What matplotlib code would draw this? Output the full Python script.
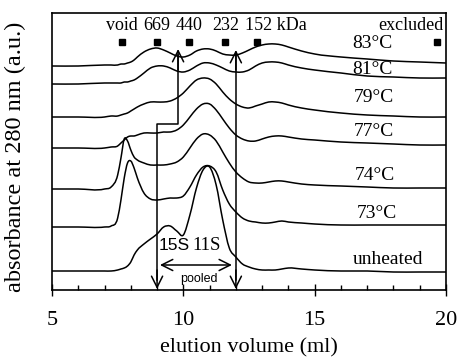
import numpy as np
import matplotlib
matplotlib.use("Agg")
import matplotlib.pyplot as plt
from matplotlib.path import Path
from matplotlib.patches import PathPatch
from matplotlib.ticker import MultipleLocator

plt.rcParams['font.family'] = ['Liberation Serif', 'DejaVu Serif']

# elution volume grid (ml), denser where the peaks are narrow
volume = [5, 6, 7, 7.25, 7.5, 7.625, 7.75, 7.875, 8, 8.125, 8.25,
          8.5, 8.75, 9, 9.25, 9.5, 9.75, 10, 10.25, 10.5, 10.75, 11,
          11.25, 11.5, 11.75, 12, 12.25, 12.5, 12.75, 13, 13.25, 13.5, 13.75,
          14, 14.5, 15, 16, 17, 18, 19, 20]

# absorbance above each trace's own baseline (a.u.)
a83 = [0, 0, 1, 1, 1, 2, 2, 3, 4, 6, 9,
       14, 17, 18, 16, 13, 10, 9, 11, 15, 17, 17, 15, 12, 11, 11, 13, 16, 19, 21, 22, 22, 21,
       19, 15, 12, 9, 7, 5, 4, 3]
a81 = [0, 0, 1, 1, 1, 1, 2, 2, 3, 4, 6,
       11, 16, 18, 18, 16, 13, 12, 14, 18, 21, 21, 19, 16, 13, 12, 12, 14, 18, 21, 22, 22, 21,
       19, 16, 14, 11, 8, 7, 6, 6]
a79 = [0, 0, 0, 1, 1, 2, 3, 4, 6, 8, 10,
       13, 15, 15, 15, 16, 19, 24, 31, 37, 39, 38, 33, 25, 18, 13, 10, 9, 11, 13, 15, 15, 14,
       12, 9, 7, 4, 2, 1, 0, 0]
a77 = [0, 0, 0, 1, 2, 5, 8, 11, 12, 12, 13,
       15, 15, 15, 16, 16, 18, 23, 31, 39, 44, 44, 38, 29, 20, 13, 9, 7, 7, 9, 11, 12, 12,
       11, 9, 8, 6, 5, 4, 3, 3]
a74 = [0, 0, 0, 2, 14, 31, 50, 48, 39, 32, 29,
       26, 24, 24, 24, 25, 27, 32, 41, 50, 55, 54, 48, 37, 26, 17, 11, 7, 6, 6, 7, 8, 8,
       7, 5, 4, 3, 2, 1, 1, 1]
a73 = [0, 0, 0, 1, 9, 27, 49, 64, 66, 59, 49,
       34, 28, 27, 28, 29, 29, 31, 40, 52, 60, 61, 55, 37, 23, 15, 9, 6, 5, 4, 4, 5, 6,
       5, 4, 3, 2, 2, 2, 2, 2]
a_unheated = [0, 0, 0, 0, 1, 2, 3, 5, 9, 16, 21,
              27, 32, 37, 44, 45, 40, 36, 56, 83, 101, 104, 86, 51, 23, 14, 7, 4, 2, 1, 1, 1, 2,
              3, 2, 1, 0, 0, -1, -1, -1]

traces = [a83, a81, a79, a77, a74, a73, a_unheated]
trace_names = ["83\u00b0C", "81\u00b0C", "79\u00b0C", "77\u00b0C", "74\u00b0C", "73\u00b0C", "unheated"]

# calibration standards
std_volume = [7.65, 9.0, 10.2, 11.6, 12.8, 19.65]
std_names = ["void", "669", "440", "232", "152 kDa", "excluded"]

# stacking offsets and label placement
offsets = [224, 206, 173, 142, 101, 63, 19]
name_x = [17.2, 17.2, 17.25, 17.25, 17.3, 17.35, 17.8]
name_y = [247, 220, 192, 158, 115, 77, 30]


def smooth_path(x, y):
    # cubic Hermite through the points, written as Bezier segments
    x = np.asarray(x, float)
    y = np.asarray(y, float)
    m = np.gradient(y, x)
    verts = [(x[0], y[0])]
    codes = [Path.MOVETO]
    for i in range(len(x) - 1):
        h = x[i + 1] - x[i]
        verts += [(x[i] + h / 3, y[i] + m[i] * h / 3),
                  (x[i + 1] - h / 3, y[i + 1] - m[i + 1] * h / 3),
                  (x[i + 1], y[i + 1])]
        codes += [Path.CURVE4] * 3
    return Path(verts, codes)


fig = plt.figure(figsize=(4.58, 3.6), dpi=100)
ax = fig.add_axes([52 / 458, 70 / 360, 394 / 458, 277 / 360])

for sig, off in zip(traces, offsets):
    p = smooth_path(volume, off + np.array(sig))
    ax.add_patch(PathPatch(p, facecolor="none", edgecolor="k", lw=1.1))

for name, x, y in zip(trace_names, name_x, name_y):
    ax.text(x, y, name, ha="center", va="center", fontsize=14)

# standards: squares and their labels
ax.plot(std_volume, [248] * len(std_volume), "s", color="k", ms=4.5)
for v, name in zip(std_volume, std_names):
    if name == "152 kDa":
        ax.text(12.33, 265, name, ha="left", va="center", fontsize=13)
    elif name == "excluded":
        ax.text(19.9, 265, name, ha="right", va="center", fontsize=13)
    else:
        ax.text(v, 265, name, ha="center", va="center", fontsize=13)

# pooled fraction markers
line_kw = dict(color="k", lw=1.1)
ax.plot([9.8, 9.8, 9.0, 9.0], [235, 166, 166, 10], **line_kw)
ax.plot([12.0, 12.0], [10, 235], **line_kw)
arrow_kw = dict(arrowstyle="->", color="k", lw=1.1, shrinkA=0, shrinkB=0, mutation_scale=20)
ax.annotate("", xy=(9.8, 241), xytext=(9.8, 220), arrowprops=arrow_kw)
ax.annotate("", xy=(12.0, 240), xytext=(12.0, 220), arrowprops=arrow_kw)
ax.annotate("", xy=(9.0, 1), xytext=(9.0, 20), arrowprops=arrow_kw)
ax.annotate("", xy=(12.0, 1), xytext=(12.0, 20), arrowprops=arrow_kw)
ax.annotate("", xy=(9.11, 25), xytext=(11.85, 25),
            arrowprops=dict(arrowstyle="<->", color="k", lw=1.1, shrinkA=0, shrinkB=0, mutation_scale=20))
ax.text(10.6, 11, "pooled", ha="center", va="center", fontsize=9, family=["Liberation Sans"])
ax.text(9.64, 45, "15S", ha="center", va="center", fontsize=12.5, family=["Liberation Sans"])
ax.text(10.9, 45, "11S", ha="center", va="center", fontsize=13.5)

ax.set_xlim(5, 20)
ax.set_ylim(0, 277)
ax.set_xticks([5, 10, 15, 20])
ax.xaxis.set_minor_locator(MultipleLocator(1))
ax.tick_params(axis="x", which="major", direction="inout", length=8, width=1, labelsize=16, pad=11)
ax.tick_params(axis="x", which="minor", direction="in", length=3.5, width=1)
ax.set_yticks([])
for s in ax.spines.values():
    s.set_linewidth(1.2)

ax.set_xlabel("elution volume (ml)", fontsize=16, labelpad=6)
ax.set_ylabel("absorbance at 280 nm (a.u.)", fontsize=17.5)
ax.yaxis.set_label_coords(-0.065, 0.48)

fig.savefig("out.png", dpi=100)
